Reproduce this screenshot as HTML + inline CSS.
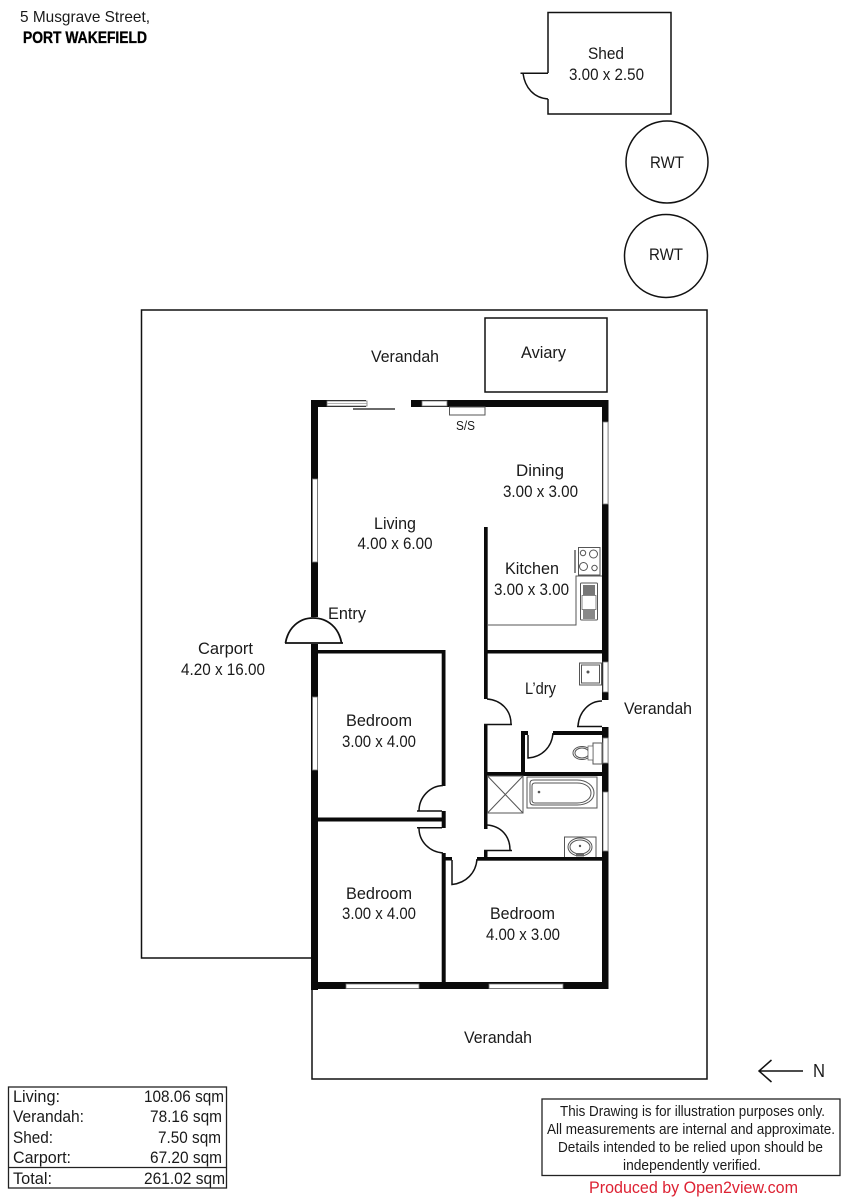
<!DOCTYPE html>
<html lang="en">
<head>
<meta charset="utf-8">
<title>5 Musgrave Street floor plan</title>
<style>
html,body{margin:0;padding:0;background:#fff;width:849px;height:1200px;overflow:hidden}
svg{display:block}
text{font-family:"Liberation Sans",sans-serif;font-size:17px;fill:#1a1a1a}
.c{text-anchor:middle}
.w{fill:#0a0a0a;stroke:none}
.win{fill:#fff;stroke:#777;stroke-width:.8}
.l{fill:none;stroke:#111;stroke-width:1.5}
.d{fill:none;stroke:#111;stroke-width:1.5}
.f{fill:none;stroke:#555;stroke-width:1}
</style>
</head>
<body>
<svg width="849" height="1200" viewBox="0 0 849 1200" xmlns="http://www.w3.org/2000/svg">
<rect width="849" height="1200" fill="#fff"/>

<!-- header -->
<text x="20" y="22" style="font-size:16px" textLength="130" lengthAdjust="spacingAndGlyphs">5 Musgrave Street,</text>
<text x="23" y="43" style="font-size:16.500px;font-weight:bold;fill:#000;stroke:#000;stroke-width:.35" textLength="124" lengthAdjust="spacingAndGlyphs">PORT WAKEFIELD</text>

<!-- shed -->
<path class="l" d="M548 73V12.5H671V114H548V99"/>
<path class="d" d="M520.5 73.3H548M523 73.3C525 88 534 98 548 99"/>
<text x="606" y="59" class="c" textLength="36" lengthAdjust="spacingAndGlyphs">Shed</text>
<text x="606.500" y="80" class="c" textLength="75" lengthAdjust="spacingAndGlyphs">3.00 x 2.50</text>

<!-- RWT -->
<circle cx="667" cy="162" r="41" class="l"/>
<circle cx="666" cy="256" r="41.500" class="l"/>
<text x="667" y="168" class="c" textLength="34" lengthAdjust="spacingAndGlyphs">RWT</text>
<text x="666" y="260" class="c" textLength="34" lengthAdjust="spacingAndGlyphs">RWT</text>

<!-- outer verandah and carport -->
<path class="l" d="M311 958H141.500V310H707V1079H312V989"/>
<rect x="485" y="318" width="122" height="74" class="l"/>

<!-- exterior walls -->
<rect class="w" x="311" y="400" width="55" height="7"/>
<rect class="w" x="411" y="400" width="197" height="7"/>
<rect class="w" x="311" y="400" width="7" height="217"/>
<rect class="w" x="311" y="644" width="7" height="346"/>
<rect class="w" x="311" y="982" width="297" height="7"/>
<rect class="w" x="602" y="400" width="6.500" height="300"/>
<rect class="w" x="602" y="727" width="6.500" height="262"/>

<!-- windows -->
<rect class="win" x="327" y="401" width="40" height="5"/>
<line x1="327" y1="403.500" x2="367" y2="403.500" stroke="#999" stroke-width=".7"/>
<rect class="win" x="422" y="401" width="25" height="5"/>
<rect class="win" x="603" y="422" width="5" height="82"/>
<rect class="win" x="312.500" y="479" width="5" height="83"/>
<rect class="win" x="312.500" y="697" width="5" height="73"/>
<rect class="win" x="346" y="984" width="73" height="4.500"/>
<rect class="win" x="489" y="984" width="74" height="4.500"/>
<rect class="win" x="603" y="662" width="5" height="30"/>
<rect class="win" x="603" y="738" width="5" height="25"/>
<rect class="win" x="603" y="792" width="5" height="59"/>
<rect x="602" y="701" width="7" height="26" fill="#fff"/>

<!-- slider -->
<line x1="353" y1="409" x2="395" y2="409" stroke="#111" stroke-width="1.300"/>
<rect class="f" x="449.500" y="407" width="35.500" height="8"/>
<text x="465.500" y="430" class="c" style="font-size:13px" textLength="19" lengthAdjust="spacingAndGlyphs">S/S</text>

<!-- entry door -->
<path class="d" d="M285 643H343M285.500 643C288 628 299 618 313 618C328 618 339 628 341.500 643" style="stroke-width:1.800"/>

<!-- interior walls -->
<rect class="w" x="317" y="650" width="128.500" height="3.500"/>
<rect class="w" x="441.700" y="650" width="3.800" height="136"/>
<rect class="w" x="484" y="527" width="3.700" height="172"/>
<rect class="w" x="484" y="650" width="118" height="3.500"/>
<rect class="w" x="484" y="724" width="3.500" height="105"/>
<rect class="w" x="484" y="772" width="118" height="4"/>
<rect class="w" x="553" y="731" width="49" height="4"/>
<rect class="w" x="521" y="731" width="4" height="42"/>
<rect class="w" x="521" y="731" width="7" height="4"/>
<rect class="w" x="484" y="850" width="3.500" height="8"/>
<rect class="w" x="477" y="857" width="125" height="3.700"/>
<rect class="w" x="317" y="817.500" width="128" height="4"/>
<rect class="w" x="441.700" y="811" width="4" height="17"/>
<rect class="w" x="441.700" y="853" width="4" height="130"/>
<rect class="w" x="445" y="857" width="7" height="3.500"/>

<!-- doors -->
<path class="d" d="M487 699C501 700 511 710 511 724M484 724.500H512"/>
<path class="d" d="M602 701C589 701 579 712 578 726M577 726.500H602"/>
<path class="d" d="M528 735V758C542 757 552 747 553 733"/>
<path class="d" d="M487 825C501 826 510 836 510 850M484 850.500H512"/>
<path class="d" d="M443 785.500C430 786 419 797 419 811M417 811H442"/>
<path class="d" d="M419 828C419 842 430 852 443 853M417 827.700H442"/>
<path class="d" d="M452 860V884.500C466 883 476 873 477 859"/>

<!-- kitchen bench -->
<path class="f" d="M488 625H576V576H602"/>
<rect class="f" x="578.500" y="547.500" width="21.500" height="27.500"/>
<circle cx="583" cy="553" r="2.700" class="f"/>
<circle cx="593.500" cy="554" r="4" class="f"/>
<circle cx="583.500" cy="566.500" r="4" class="f"/>
<circle cx="594.500" cy="568" r="2.700" class="f"/>
<rect x="574" y="550" width="2" height="23" fill="#888"/>
<rect class="f" x="580.500" y="583" width="17" height="37" rx="1"/>
<rect x="583" y="585" width="12" height="10" fill="#777"/>
<rect x="583" y="610" width="12" height="9" fill="#888"/>
<rect x="582" y="595.500" width="14" height="14" fill="#fff" stroke="#555" stroke-width=".7"/>

<!-- laundry -->
<rect class="f" x="579.500" y="663" width="22" height="22"/>
<rect class="f" x="581.500" y="665" width="18" height="18"/>
<circle cx="588" cy="672" r="1.500" fill="#555"/>

<!-- toilet -->
<rect class="f" x="593" y="743" width="9" height="21"/>
<ellipse cx="582" cy="753" rx="9" ry="6.500" class="f"/>
<ellipse cx="582" cy="753" rx="7" ry="5" class="f"/>
<rect x="588" y="746" width="5" height="14" fill="#fff" stroke="#555" stroke-width=".7"/>

<!-- shower -->
<rect class="f" x="487.500" y="776" width="35.500" height="37"/>
<path class="f" d="M487.500 776L523 813M523 776L487.500 813"/>

<!-- bath -->
<rect class="f" x="527" y="777" width="70" height="31"/>
<path class="f" d="M534 780H577C587 780 594 786 594 793C594 800 587 805 577 805H534C531 805 530 804 530 801V784C530 781 531 780 534 780Z"/>
<path class="f" d="M535 783H577C585 783 591 787 591 793C591 799 585 803 577 803H535C533 803 532 802 532 800V786C532 784 533 783 535 783Z"/>
<circle cx="539" cy="792" r="1.300" fill="#555"/>

<!-- basin -->
<path class="f" d="M564.500 857V837H596V857"/>
<ellipse cx="580" cy="847" rx="12" ry="9" class="f"/>
<ellipse cx="580" cy="847" rx="10" ry="7" class="f"/>
<circle cx="580" cy="846" r="1.200" fill="#555"/>
<rect x="576" y="853" width="8" height="3.500" fill="#666"/>

<!-- room labels -->
<text x="405" y="362" class="c" textLength="68" lengthAdjust="spacingAndGlyphs">Verandah</text>
<text x="543.500" y="358" class="c" textLength="45" lengthAdjust="spacingAndGlyphs">Aviary</text>
<text x="540" y="476" class="c" textLength="48" lengthAdjust="spacingAndGlyphs">Dining</text>
<text x="540.500" y="497" class="c" textLength="75" lengthAdjust="spacingAndGlyphs">3.00 x 3.00</text>
<text x="395" y="529" class="c" textLength="42" lengthAdjust="spacingAndGlyphs">Living</text>
<text x="395" y="549" class="c" textLength="75" lengthAdjust="spacingAndGlyphs">4.00 x 6.00</text>
<text x="532" y="574" class="c" textLength="54" lengthAdjust="spacingAndGlyphs">Kitchen</text>
<text x="531.500" y="595" class="c" textLength="75" lengthAdjust="spacingAndGlyphs">3.00 x 3.00</text>
<text x="347" y="619" class="c" textLength="38" lengthAdjust="spacingAndGlyphs">Entry</text>
<text x="225.500" y="654" class="c" textLength="55" lengthAdjust="spacingAndGlyphs">Carport</text>
<text x="223" y="675" class="c" textLength="84" lengthAdjust="spacingAndGlyphs">4.20 x 16.00</text>
<text x="540.500" y="694" class="c" textLength="31" lengthAdjust="spacingAndGlyphs">L’dry</text>
<text x="658" y="714" class="c" textLength="68" lengthAdjust="spacingAndGlyphs">Verandah</text>
<text x="379" y="726" class="c" textLength="66" lengthAdjust="spacingAndGlyphs">Bedroom</text>
<text x="379" y="747" class="c" textLength="74" lengthAdjust="spacingAndGlyphs">3.00 x 4.00</text>
<text x="379" y="899" class="c" textLength="66" lengthAdjust="spacingAndGlyphs">Bedroom</text>
<text x="379" y="919" class="c" textLength="74" lengthAdjust="spacingAndGlyphs">3.00 x 4.00</text>
<text x="522.500" y="919" class="c" textLength="65" lengthAdjust="spacingAndGlyphs">Bedroom</text>
<text x="523" y="940" class="c" textLength="74" lengthAdjust="spacingAndGlyphs">4.00 x 3.00</text>
<text x="498" y="1043" class="c" textLength="68" lengthAdjust="spacingAndGlyphs">Verandah</text>

<!-- north arrow -->
<path class="d" d="M803 1071H759M771.500 1060L759 1071L771.500 1082"/>
<text x="813" y="1077" style="font-size:18px" textLength="12" lengthAdjust="spacingAndGlyphs">N</text>

<!-- area table -->
<rect x="8.500" y="1087" width="218" height="101" fill="none" stroke="#222" stroke-width="1.300"/>
<line x1="8.500" y1="1167.500" x2="226.500" y2="1167.500" stroke="#222" stroke-width="1.300"/>
<text x="13" y="1102" textLength="47" lengthAdjust="spacingAndGlyphs">Living:</text>
<text x="13" y="1122" textLength="71" lengthAdjust="spacingAndGlyphs">Verandah:</text>
<text x="13" y="1143" textLength="40" lengthAdjust="spacingAndGlyphs">Shed:</text>
<text x="13" y="1163" textLength="58" lengthAdjust="spacingAndGlyphs">Carport:</text>
<text x="13" y="1184" textLength="39" lengthAdjust="spacingAndGlyphs">Total:</text>
<text x="144" y="1102" textLength="80" lengthAdjust="spacingAndGlyphs">108.06 sqm</text>
<text x="150" y="1122" textLength="72" lengthAdjust="spacingAndGlyphs">78.16 sqm</text>
<text x="158" y="1143" textLength="63" lengthAdjust="spacingAndGlyphs">7.50 sqm</text>
<text x="150" y="1163" textLength="72" lengthAdjust="spacingAndGlyphs">67.20 sqm</text>
<text x="144" y="1184" textLength="81" lengthAdjust="spacingAndGlyphs">261.02 sqm</text>

<!-- disclaimer -->
<rect x="542" y="1099" width="298" height="76.500" fill="none" stroke="#222" stroke-width="1.300"/>
<text x="560" y="1116" style="font-size:14.500px" textLength="265" lengthAdjust="spacingAndGlyphs">This Drawing is for illustration purposes only.</text>
<text x="547" y="1134" style="font-size:14.500px" textLength="288" lengthAdjust="spacingAndGlyphs">All measurements are internal and  approximate.</text>
<text x="558" y="1152" style="font-size:14.500px" textLength="265" lengthAdjust="spacingAndGlyphs">Details intended to be relied upon should be</text>
<text x="623" y="1170" style="font-size:14.500px" textLength="138" lengthAdjust="spacingAndGlyphs">independently verified.</text>
<text x="589" y="1193" style="font-size:17px;fill:#dd2233" textLength="209" lengthAdjust="spacingAndGlyphs">Produced by Open2view.com</text>
</svg>
</body>
</html>
